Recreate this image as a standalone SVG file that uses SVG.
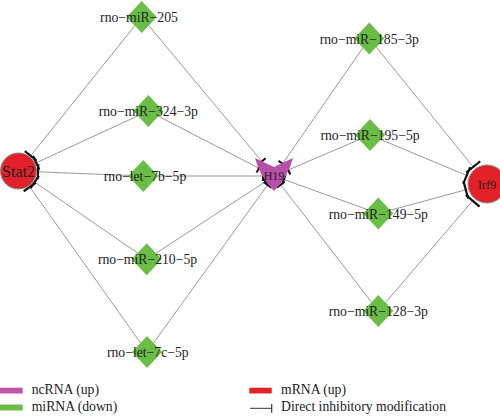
<svg xmlns="http://www.w3.org/2000/svg" width="500" height="417" viewBox="0 0 500 417">
<defs>
<style>
.e{stroke:#9a9a9a;stroke-width:1;fill:none}
.mi{fill:#6abd45}
.lbl{font-family:"Liberation Serif","Times New Roman",serif;font-size:13.7px;fill:#222;text-anchor:middle}
.leg{font-family:"Liberation Serif","Times New Roman",serif;font-size:13.7px;fill:#222}
.mr{fill:#e32129;stroke:#8a8a8a;stroke-width:1}
.a1{marker-end:url(#tb1)}
.a2{marker-end:url(#tb2)}
.a3{marker-end:url(#tb3)}
</style>
<marker id="tb1" markerUnits="userSpaceOnUse" viewBox="-2 -9 4 18" markerWidth="4" markerHeight="18" refX="0" refY="0" orient="auto" overflow="visible">
<path d="M0,-7.5 L0,7.5" stroke="#111" stroke-width="2.2" fill="none"/>
</marker>
<marker id="tb2" markerUnits="userSpaceOnUse" viewBox="-2 -6 4 12" markerWidth="4" markerHeight="12" refX="0" refY="0" orient="auto" overflow="visible">
<path d="M0,-5 L0,5" stroke="#111" stroke-width="2" fill="none"/>
</marker>
<marker id="tb3" markerUnits="userSpaceOnUse" viewBox="-2 -10 4 20" markerWidth="4" markerHeight="20" refX="0" refY="0" orient="auto" overflow="visible">
<path d="M0,-9 L0,9" stroke="#111" stroke-width="2.2" fill="none"/>
</marker>
</defs>
<rect width="500" height="417" fill="#fff"/>
<g id="connectors">
<line class="e a1" x1="141.7" y1="17" x2="30.7" y2="155.8"/>
<line class="e a1" x1="148.3" y1="111" x2="36.2" y2="162.8"/>
<line class="e a1" x1="143.3" y1="176" x2="38" y2="171.8"/>
<line class="e a1" x1="146.7" y1="259.3" x2="34.6" y2="182.1"/>
<line class="e a1" x1="147" y1="352" x2="29.8" y2="186.9"/>
<line class="e a2" x1="141.7" y1="17" x2="261.8" y2="161.4"/>
<line class="e a2" x1="148.3" y1="111" x2="258.9" y2="168.2"/>
<line class="e a2" x1="143.3" y1="176" x2="263" y2="176"/>
<line class="e a2" x1="146.7" y1="259.3" x2="265.6" y2="181.5"/>
<line class="e a2" x1="147" y1="352" x2="267.6" y2="184.9"/>
<line class="e a2" x1="369.3" y1="38.5" x2="282.6" y2="163.7"/>
<line class="e a2" x1="370" y1="135" x2="288.3" y2="169.9"/>
<line class="e a2" x1="378.3" y1="213.5" x2="283.9" y2="179.5"/>
<line class="e a2" x1="378.3" y1="311" x2="280.7" y2="184.7"/>
<line class="e a3" x1="369.3" y1="38.5" x2="473.2" y2="166.9"/>
<line class="e a3" x1="370" y1="135" x2="466.7" y2="175.5"/>
<line class="e a3" x1="378.3" y1="213.5" x2="465.8" y2="189.8"/>
<line class="e a3" x1="378.3" y1="311" x2="472.7" y2="200.7"/>
</g>
<g id="n-stat2">
<circle class="mr" cx="18.5" cy="171" r="18"/>
<text class="lbl" x="18.5" y="176.5" style="font-size:16px">Stat2</text>
</g>
<g id="n-irf9">
<circle class="mr" cx="487" cy="184" r="19"/>
<text class="lbl" x="487" y="188.5" style="font-size:12.5px">Irf9</text>
</g>
<g id="n-h19">
<path d="M255,158 L274,167 L293,158 Q288,177 274,191 Q260,177 255,158 Z" fill="#b84fa8"/>
<text class="lbl" x="274" y="180" style="font-size:12px">H19</text>
</g>
<g id="n-mir205">
<polygon class="mi" points="141.7,1 156.7,17 141.7,33 126.7,17"/>
<text class="lbl" x="139" y="22">rno−miR−205</text>
</g>
<g id="n-mir324">
<polygon class="mi" points="148.3,95 163.3,111 148.3,127 133.3,111"/>
<text class="lbl" x="148.3" y="115.5">rno−miR−324−3p</text>
</g>
<g id="n-let7b">
<polygon class="mi" points="143.3,160 158.3,176 143.3,192 128.3,176"/>
<text class="lbl" x="145" y="180.5">rno−let−7b−5p</text>
</g>
<g id="n-mir210">
<polygon class="mi" points="146.7,243.3 161.7,259.3 146.7,275.3 131.7,259.3"/>
<text class="lbl" x="147.5" y="264">rno−miR−210−5p</text>
</g>
<g id="n-let7c">
<polygon class="mi" points="147,336 162,352 147,368 132,352"/>
<text class="lbl" x="147.8" y="356.5">rno−let−7c−5p</text>
</g>
<g id="n-mir185">
<polygon class="mi" points="369.3,22.5 384.3,38.5 369.3,54.5 354.3,38.5"/>
<text class="lbl" x="369.3" y="44">rno−miR−185−3p</text>
</g>
<g id="n-mir195">
<polygon class="mi" points="370,119 385,135 370,151 355,135"/>
<text class="lbl" x="370" y="140">rno−miR−195−5p</text>
</g>
<g id="n-mir149">
<polygon class="mi" points="378.3,197.5 393.3,213.5 378.3,229.5 363.3,213.5"/>
<text class="lbl" x="378.3" y="218.5">rno−miR−149−5p</text>
</g>
<g id="n-mir128">
<polygon class="mi" points="378.3,295 393.3,311 378.3,327 363.3,311"/>
<text class="lbl" x="378.3" y="316">rno−miR−128−3p</text>
</g>
<g id="legend">
<rect x="0" y="387.7" width="22.7" height="5.8" fill="#c055a8"/>
<text class="leg" x="31.7" y="394.3">ncRNA (up)</text>
<rect x="0" y="404.5" width="22.7" height="6" fill="#6abd45"/>
<text class="leg" x="31.7" y="411">miRNA (down)</text>
<rect x="249.3" y="387.7" width="22.4" height="5.8" fill="#e32129"/>
<text class="leg" x="281" y="394.3">mRNA (up)</text>
<line x1="250" y1="408.3" x2="271.7" y2="408.3" stroke="#333" stroke-width="1"/>
<line x1="271.7" y1="404" x2="271.7" y2="412.7" stroke="#333" stroke-width="1.2"/>
<text class="leg" x="281" y="411">Direct inhibitory modification</text>
</g>
</svg>
